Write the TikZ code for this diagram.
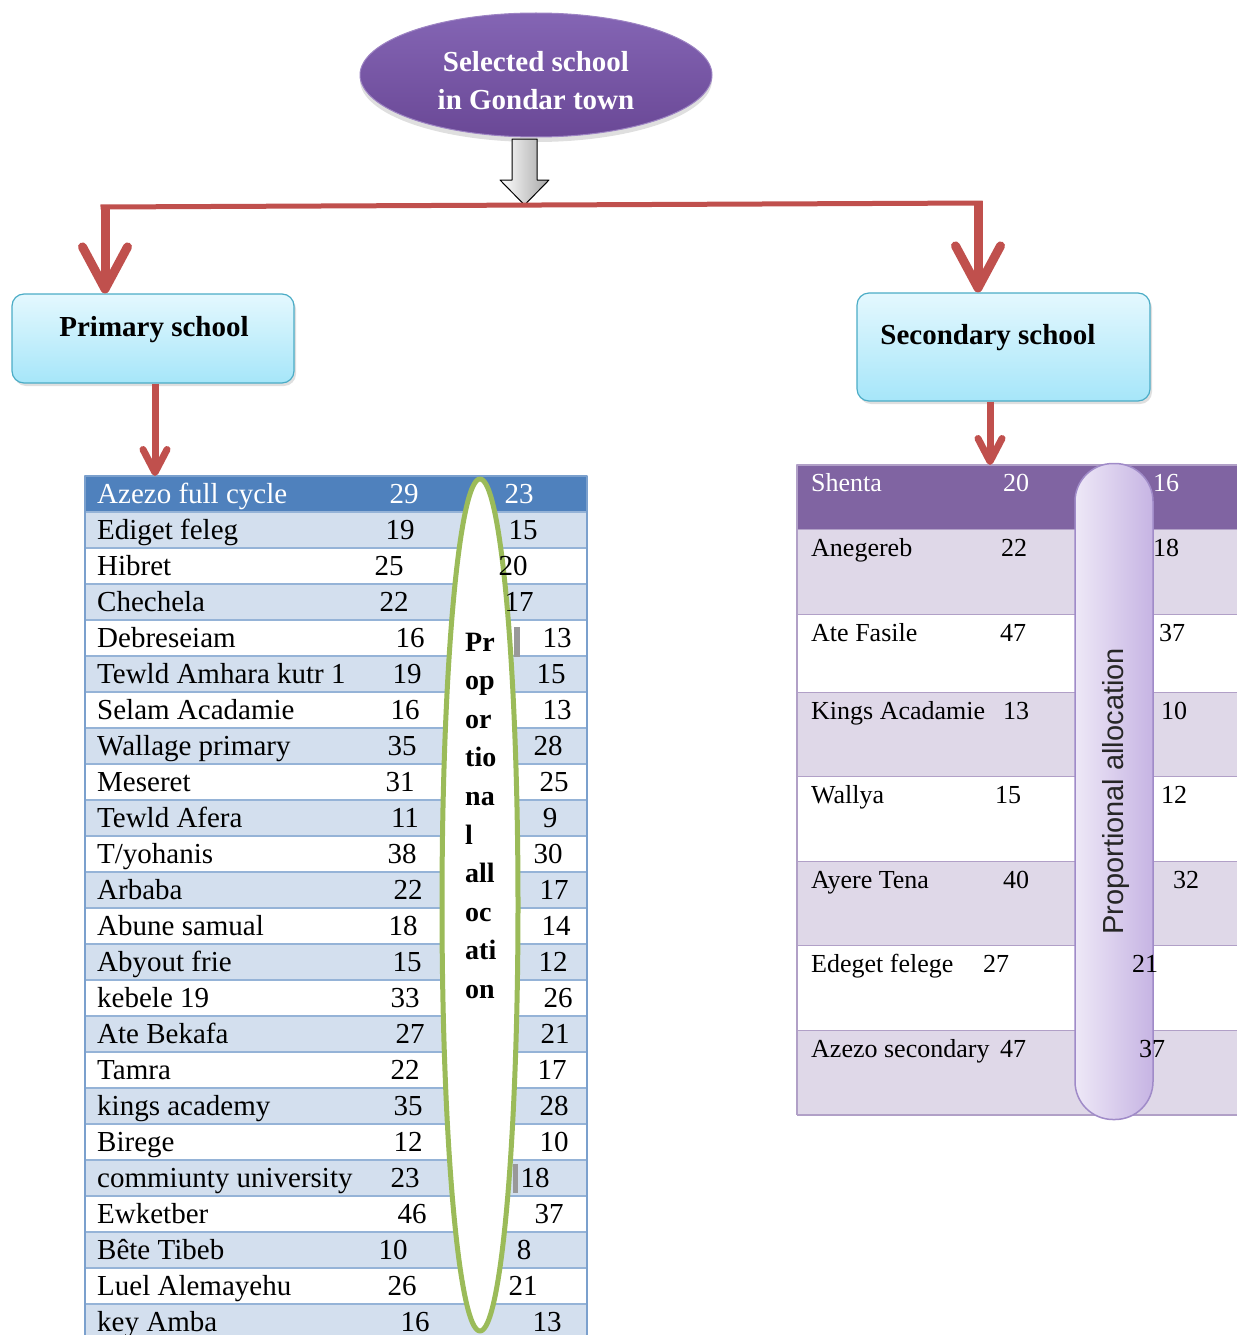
\documentclass[tikz,border=0pt]{standalone}
\usepackage{fontspec}
\setmainfont{Liberation Serif}
\newfontfamily\sansf{Liberation Sans}
\usetikzlibrary{shapes.geometric,arrows.meta,shadows,calc}
\definecolor{redc}{HTML}{C0504D}
\definecolor{ellTop}{HTML}{8465B4}
\definecolor{ellBot}{HTML}{6A4896}
\definecolor{cyTop}{HTML}{E4F8FE}
\definecolor{cyBot}{HTML}{A6E6F9}
\definecolor{cyBorder}{HTML}{4BACC6}
\definecolor{lHead}{HTML}{4F81BD}
\definecolor{lRow}{HTML}{D3DFEE}
\definecolor{lSep}{HTML}{95B3D7}
\definecolor{lFrame}{HTML}{7BA0CD}
\definecolor{rHead}{HTML}{8064A2}
\definecolor{rRow}{HTML}{DFD8E8}
\definecolor{rSep}{HTML}{B1A0C7}
\definecolor{greenc}{HTML}{9BBB59}
\definecolor{pillL}{HTML}{EEE8F7}
\definecolor{pillR}{HTML}{C6B4E3}
\definecolor{pillB}{HTML}{A08BC8}
\tikzset{
  topell/.style={ellipse, top color=ellTop, bottom color=ellBot, draw=ellTop!80!white, line width=1pt,
    minimum width=352, minimum height=124,
    drop shadow={opacity=0.25, shadow xshift=0pt, shadow yshift=-5pt}},
  topelltxt/.style={text=white, align=center, inner sep=0pt,
    font=\bfseries\fontsize{29}{38}\selectfont},
  cyanbox/.style={rectangle, rounded corners=12pt, top color=cyTop, bottom color=cyBot, draw=cyBorder, line width=1.2pt,
    drop shadow={opacity=0.25, shadow xshift=2pt, shadow yshift=-3pt}},
  boldtxt/.style={font=\bfseries\fontsize{29}{34}\selectfont, inner sep=0pt, anchor=base},
  redline/.style={draw=redc, line width=5pt},
  bigarrow/.style={draw=redc, line width=9pt, -{Straight Barb[length=42pt,width=45pt,round]}},
  smallarrow/.style={draw=redc, line width=7pt, -{Straight Barb[length=23pt,width=24pt,round]}},
  grayarrow/.style={draw=black, line width=1pt, left color=white, right color=black!35},
  ltxt/.style={font=\fontsize{29}{34}\selectfont, inner sep=0pt},
  rtxt/.style={font=\fontsize{26}{32}\selectfont, inner sep=0pt},
  proptxt/.style={font=\bfseries\fontsize{28}{34}\selectfont, inner sep=0pt, anchor=base west},
  greenell/.style={ellipse, draw=greenc, line width=5pt, fill=white, minimum width=76, minimum height=852, inner sep=0pt},
  pill/.style={rectangle, rounded corners=38pt, left color=pillL, right color=pillR, draw=pillB, line width=1.5pt,
    minimum width=78, minimum height=656, inner sep=0pt},
}
\begin{document}
\begin{tikzpicture}[x=1pt,y=-1pt,line join=round]
\useasboundingbox (0,0) rectangle (1237,1335);

% ---------------- left table background ----------------
\foreach \i in {0,...,23}{
  \pgfmathsetmacro\yt{476+36*\i}
  \ifnum\i=0
    \fill[lHead] (85,\yt) rectangle (587,\yt+36);
  \else
    \ifodd\i
      \fill[lRow] (85,\yt) rectangle (587,\yt+36);
    \fi
  \fi
}
\foreach \k in {1,...,23}{
  \draw[lSep, line width=2.5pt] (85,476+36*\k) -- (587,476+36*\k);
}
\draw[lFrame, line width=2.5pt] (85,1337) -- (85,476) -- (587,476) -- (587,1337);
\fill[black!40] (514,627) rectangle (520,657);
\fill[black!40] (513,1164) rectangle (518,1193);

% ---------------- right table background ----------------
\foreach \yt/\yb/\c in {465/530/rHead,530/615/rRow,615/693/white,693/777/rRow,777/862/white,862/946/rRow,946/1031/white,1031/1115/rRow}{
  \fill[\c] (797,\yt) rectangle (1237,\yb);
  \draw[rSep, line width=2pt] (797,\yb) -- (1237,\yb);
}
\draw[rSep, line width=2pt] (1237,465) -- (797,465) -- (797,1115);

% ---------------- top ----------------
\node[topell] (top) at (536,75) {};
\node[topelltxt] (topt) at (536,81) {Selected school\\in Gondar town};
\path[grayarrow] (512,139) -- (537,139) -- (537,180) -- (549,180) -- (524.5,205) -- (500,180) -- (512,180) -- cycle;

% ---------------- boxes ----------------
\node[cyanbox, minimum width=282, minimum height=89] (prim) at (153,338.5) {};
\node[boldtxt] (primt) at (154,336) {Primary school};
\node[cyanbox, minimum width=293, minimum height=108] (sec) at (1003.5,347) {};
\node[boldtxt] (sect) at (988,344) {Secondary school};

% ---------------- connectors ----------------
\coordinate (jl) at (105,207);
\coordinate (jr) at (978,203);
\coordinate (ltabtop) at (155,476);
\coordinate (rtabtop) at (990,465);
\draw[redline] ([xshift=-4.5pt]jl) -- ([xshift=4.5pt]jr);
\draw[bigarrow] ([yshift=2.5pt]jl) -- (jl |- prim.north);
\draw[bigarrow] ([yshift=2.5pt]jr) -- (jr |- sec.north);
\draw[smallarrow] (prim.south -| ltabtop) -- (ltabtop);
\draw[smallarrow] (sec.south -| rtabtop) -- (rtabtop);

% ---------------- green ellipse ----------------
\node[greenell] (gell) at (480,905) {};
\foreach \t [count=\n from 0] in {Pr,op,or,tio,na,l,all,oc,ati,on}{
  \node[proptxt] (p\n) at (465,651+38.6*\n) {\t};
}

% ---------------- left table text ----------------
\foreach \i/\nm/\a/\ax/\b/\bx in {
  0/Azezo full cycle/29/404/23/519,
  1/Ediget feleg/19/400/15/523,
  2/Hibret/25/389/20/513,
  3/Chechela/22/394/17/519,
  4/Debreseiam/16/410/13/557,
  5/Tewld Amhara kutr 1/19/407/15/551,
  6/Selam Acadamie/16/405/13/557,
  7/Wallage primary/35/402/28/548,
  8/Meseret/31/400/25/554,
  9/Tewld Afera/11/405/9/550,
  10/{T/yohanis}/38/402/30/548,
  11/Arbaba/22/408/17/554,
  12/Abune samual/18/403/14/556,
  13/Abyout frie/15/407/12/553,
  14/kebele 19/33/405/26/558,
  15/Ate Bekafa/27/410/21/555,
  16/Tamra/22/405/17/552,
  17/kings academy/35/408/28/554,
  18/Birege/12/408/10/554,
  19/commiunty university/23/405/18/535,
  20/Ewketber/46/412/37/549,
  21/Bête Tibeb/10/393/8/524,
  22/Luel Alemayehu/26/402/21/523,
  23/key Amba/16/415/13/547}{
  \ifnum\i=0 \def\tc{white}\else\def\tc{black}\fi
  \node[ltxt, text=\tc, anchor=base west] (ln\i) at (97,503+36*\i) {\nm};
  \node[ltxt, text=\tc, anchor=base] (la\i) at (\ax,503+36*\i) {\a};
  \node[ltxt, text=\tc, anchor=base] (lb\i) at (\bx,503+36*\i) {\b};
}

% ---------------- pill ----------------
\node[pill] (pill) at (1114,791.5) {};
\node[font=\sansf\fontsize{29}{34}\selectfont, inner sep=0pt, anchor=base, rotate=90, text=black!85] (pillt) at (1123,791.5) {Proportional allocation};

% ---------------- right table text ----------------
\foreach \j/\yt/\nm/\a/\ax/\b/\bx in {
  0/465/Shenta/20/1016/16/1166,
  1/530/Anegereb/22/1014/18/1166,
  2/615/Ate Fasile/47/1013/37/1172,
  3/693/Kings Acadamie/13/1016/10/1174,
  4/777/Wallya/15/1008/12/1174,
  5/862/Ayere Tena/40/1016/32/1186,
  6/946/Edeget felege/27/996/21/1145,
  7/1031/Azezo secondary/47/1013/37/1152}{
  \ifnum\j=0 \def\tc{white}\else\def\tc{black}\fi
  \node[rtxt, text=\tc, anchor=base west] (rn\j) at (811,\yt+26) {\nm};
  \node[rtxt, text=\tc, anchor=base] (ra\j) at (\ax,\yt+26) {\a};
  \node[rtxt, text=\tc, anchor=base] (rb\j) at (\bx,\yt+26) {\b};
}
\end{tikzpicture}
\end{document}
